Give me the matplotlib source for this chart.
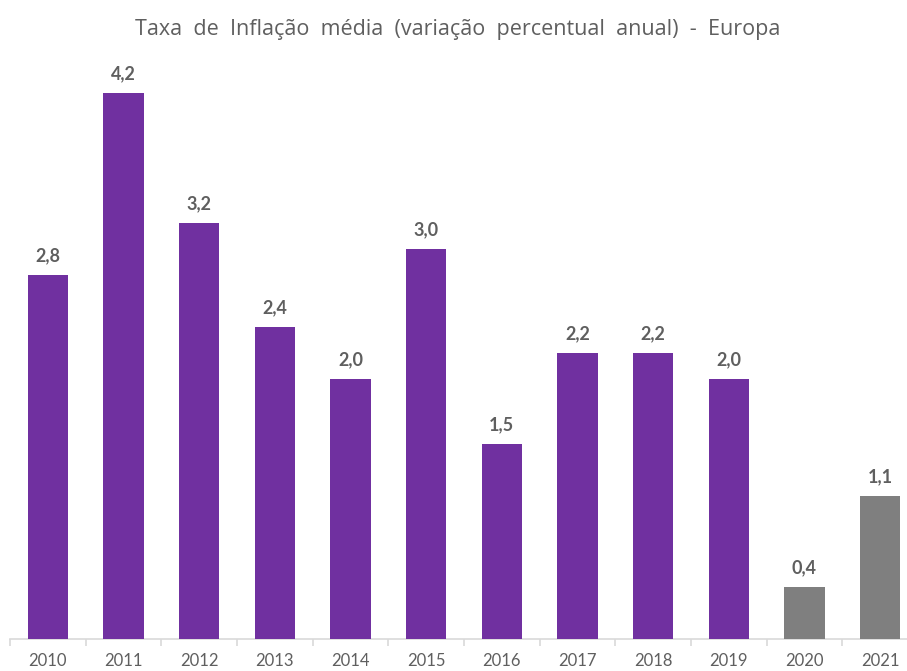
import numpy as np
import matplotlib.pyplot as plt

plt.rcParams['font.family'] = ['Lato', 'DejaVu Sans']

# dados
anos = ['2010', '2011', '2012', '2013', '2014', '2015',
        '2016', '2017', '2018', '2019', '2020', '2021']
inflacao = [2.8, 4.2, 3.2, 2.4, 2.0, 3.0, 1.5, 2.2, 2.2, 2.0, 0.4, 1.1]
previsao = [False] * 10 + [True, True]

roxo = '#7030A0'
cinza = '#7F7F7F'
texto = '#5F5F5F'

fig = plt.figure(figsize=(9.07, 6.71), dpi=100)
ax = fig.add_axes([10 / 907, 32 / 671, 908 / 907, 585 / 671])

x = np.arange(len(anos))
cores = [cinza if p else roxo for p in previsao]
bars = ax.bar(x, inflacao, width=0.53, color=cores, zorder=3)

for b, v in zip(bars, inflacao):
    ax.annotate(f'{v:.1f}'.replace('.', ','),
                (b.get_x() + b.get_width() / 2, v),
                xytext=(0, 8), textcoords='offset points',
                ha='center', va='bottom', fontsize=13, fontweight='bold',
                color=texto)

ax.set_xlim(-0.5, len(anos) - 0.5)
ax.set_ylim(0, 4.5)

for s in ['top', 'right', 'left']:
    ax.spines[s].set_visible(False)
ax.spines['bottom'].set_color('#D9D9D9')
ax.spines['bottom'].set_linewidth(1.2)

ax.set_yticks([])
ax.set_xticks(x)
ax.set_xticklabels(anos, fontsize=12, color=texto)
ax.tick_params(axis='x', which='major', length=0, pad=10)
ax.set_xticks(np.arange(len(anos) + 1) - 0.5, minor=True)
ax.tick_params(axis='x', which='minor', length=5, color='#D9D9D9', width=1.2)

# título com espaçamento largo, como no original
titulo = 'Taxa de Inflação média (variação percentual anual) - Europa'
fig.text(458 / 907, 1 - 30 / 671, titulo.replace(' ', '  '),
         ha='center', va='center', fontsize=15.5, color=texto,
         family=['Open Sans', 'DejaVu Sans'])

fig.savefig('out.png', dpi=100)
